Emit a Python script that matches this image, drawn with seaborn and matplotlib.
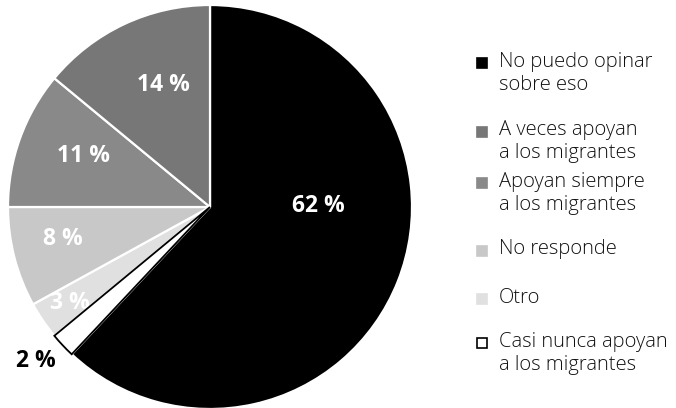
import numpy as np
import pandas as pd
import seaborn as sns
import matplotlib
matplotlib.use("Agg")
import matplotlib.pyplot as plt
from matplotlib.patches import Rectangle

# ---- data ----
categories = ["No puedo opinar\nsobre eso",
              "Casi nunca apoyan\na los migrantes",
              "Otro",
              "No responde",
              "Apoyan siempre\na los migrantes",
              "A veces apoyan\na los migrantes"]
values = [62, 2, 3, 8, 11, 14]
pct_labels = ["62 %", "2 %", "3 %", "8 %", "11 %", "14 %"]
legend_order = [0, 5, 4, 3, 2, 1]

# ---- styles / layout ----
colors = ["#000000", "#ffffff", "#e0e0e0", "#c8c8c8", "#898989", "#777777"]
edgecolors = ["white", "black", "white", "white", "white", "white"]
explode = [0.02, 0.03, 0, 0, 0, 0]
label_colors = ["white", "black", "white", "white", "white", "white"]
label_r = [0.535, 1.14, 0.83, 0.74, 0.68, 0.66]
label_shift = [23.6, -2.2, -0.6, -3.4, -3.2, -4.6]
legend_baselines = [66.7, 135, 186.7, 254, 302.7, 346.7]  # px from top
line_step = 23.3

sns.set_theme(style="white")
plt.rcParams['font.family'] = ['Open Sans', 'DejaVu Sans']

W, H = 676, 408
fig = plt.figure(figsize=(W / 100, H / 100), dpi=100)
ax = fig.add_axes([0, 0, 1, 1])

cx, cy, R = 210, H - 207, 202
df = pd.DataFrame({"cat": categories, "val": values})
wedges, _ = ax.pie(df["val"], colors=colors, startangle=90, counterclock=False,
                   explode=explode, center=(cx, cy), radius=R,
                   wedgeprops=dict(linewidth=1.6), frame=True)
for w, ec in zip(wedges, edgecolors):
    w.set_edgecolor(ec)
    w.set_clip_on(False)
wedges[1].set_linewidth(1.3)
wedges[1].set_zorder(3)
ax.set_xlim(0, W)
ax.set_ylim(0, H)
ax.set_aspect("auto")
ax.axis("off")

for i, w in enumerate(wedges):
    mid = np.deg2rad((w.theta1 + w.theta2) / 2 + label_shift[i])
    r = label_r[i] * R
    x = cx + r * np.cos(mid)
    y = cy + r * np.sin(mid)
    ax.text(x, y, pct_labels[i], ha="center", va="center_baseline",
            color=label_colors[i], fontsize=16.5, fontweight="bold", zorder=2)

# legend
for k, idx in enumerate(legend_order):
    base = H - legend_baselines[k]
    ax.add_patch(Rectangle((477, base - 1.5), 10, 10, facecolor=colors[idx],
                           edgecolor="black" if idx == 1 else colors[idx],
                           linewidth=1.2, clip_on=False))
    for j, line in enumerate(categories[idx].split("\n")):
        ax.text(499, base - j * line_step, line, ha="left", va="baseline",
                fontsize=14.5, color="#111111", fontweight="light")

fig.savefig("out.png", dpi=100)
